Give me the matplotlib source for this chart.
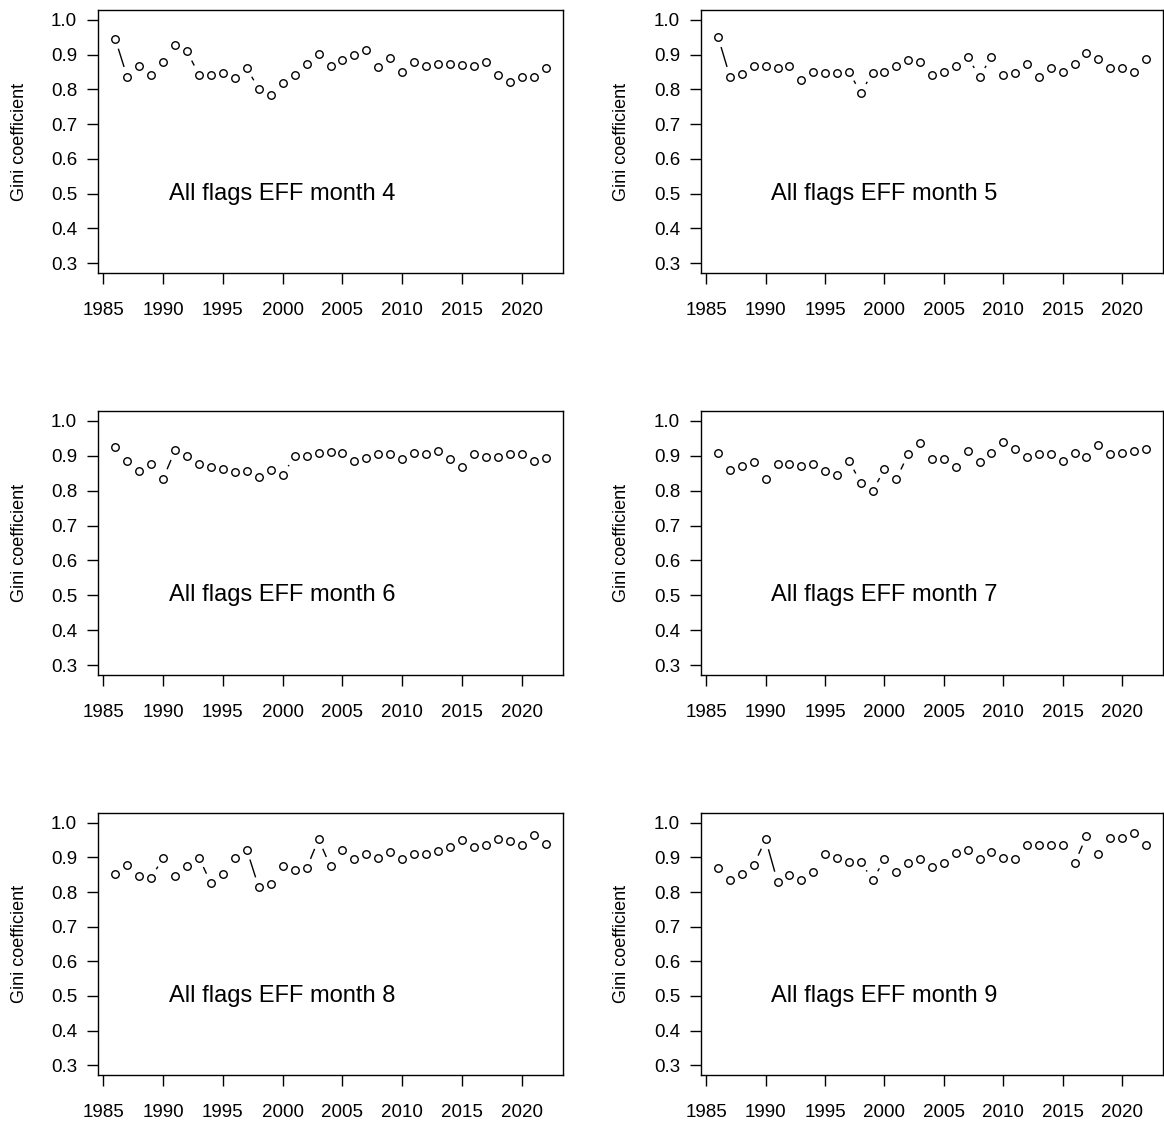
import numpy as np
import matplotlib
matplotlib.use("Agg")
import matplotlib.pyplot as plt

plt.rcParams['font.family'] = ['Liberation Sans', 'DejaVu Sans']

years = np.arange(1986, 2023)

gini_m4 = [0.945, 0.836, 0.866, 0.842, 0.878, 0.927, 0.909, 0.842, 0.842, 0.847,
           0.833, 0.862, 0.800, 0.784, 0.817, 0.841, 0.873, 0.902, 0.866, 0.883,
           0.898, 0.914, 0.864, 0.889, 0.851, 0.878, 0.866, 0.873, 0.873, 0.871,
           0.866, 0.878, 0.842, 0.820, 0.835, 0.835, 0.862]
gini_m5 = [0.950, 0.836, 0.845, 0.866, 0.866, 0.862, 0.866, 0.826, 0.851, 0.847,
           0.847, 0.851, 0.790, 0.847, 0.851, 0.866, 0.883, 0.878, 0.841, 0.851,
           0.866, 0.893, 0.836, 0.893, 0.841, 0.847, 0.873, 0.836, 0.862, 0.851,
           0.873, 0.905, 0.887, 0.862, 0.862, 0.851, 0.887]
gini_m6 = [0.925, 0.886, 0.855, 0.877, 0.834, 0.915, 0.898, 0.877, 0.867, 0.863,
           0.853, 0.855, 0.840, 0.858, 0.845, 0.898, 0.898, 0.908, 0.912, 0.908,
           0.885, 0.893, 0.904, 0.904, 0.891, 0.908, 0.904, 0.914, 0.891, 0.867,
           0.904, 0.896, 0.896, 0.904, 0.904, 0.885, 0.893]
gini_m7 = [0.908, 0.860, 0.871, 0.882, 0.834, 0.877, 0.877, 0.871, 0.877, 0.855,
           0.845, 0.886, 0.823, 0.798, 0.862, 0.834, 0.904, 0.935, 0.891, 0.891,
           0.867, 0.914, 0.882, 0.908, 0.939, 0.919, 0.896, 0.904, 0.904, 0.885,
           0.908, 0.896, 0.930, 0.904, 0.908, 0.914, 0.919]
gini_m8 = [0.851, 0.878, 0.846, 0.840, 0.899, 0.846, 0.874, 0.899, 0.826, 0.853,
           0.899, 0.922, 0.814, 0.822, 0.874, 0.863, 0.868, 0.952, 0.874, 0.922,
           0.894, 0.911, 0.899, 0.915, 0.894, 0.909, 0.909, 0.918, 0.930, 0.949,
           0.930, 0.935, 0.952, 0.947, 0.935, 0.964, 0.939]
gini_m9 = [0.868, 0.834, 0.851, 0.878, 0.952, 0.830, 0.848, 0.834, 0.858, 0.911,
           0.899, 0.888, 0.888, 0.834, 0.894, 0.858, 0.883, 0.894, 0.872, 0.883,
           0.914, 0.922, 0.894, 0.916, 0.899, 0.894, 0.935, 0.935, 0.935, 0.935,
           0.883, 0.961, 0.909, 0.955, 0.955, 0.971, 0.935]

months = [4, 5, 6, 7, 8, 9]
series = [gini_m4, gini_m5, gini_m6, gini_m7, gini_m8, gini_m9]
x_ticks = np.arange(1985, 2021, 5)
y_ticks = np.round(np.arange(0.3, 1.01, 0.1), 1)

W, H = 1164, 1126
fig = plt.figure(figsize=(W / 100, H / 100), dpi=100)

# axes boxes in pixels: (left, right) and (top, bottom)
cols = [(98, 563), (701, 1163)]
rows = [(10, 273), (411, 675), (813, 1075)]


def draw_b(ax, x, y, gap=11):
    # R style type="b": segments stop short of the points
    pts = ax.transData.transform(np.column_stack([x, y]))
    inv = ax.transData.inverted()
    for p1, p2 in zip(pts[:-1], pts[1:]):
        d = p2 - p1
        L = np.hypot(d[0], d[1])
        if L > 2 * gap:
            u = d / L
            a = inv.transform(p1 + u * gap)
            b = inv.transform(p2 - u * gap)
            ax.plot([a[0], b[0]], [a[1], b[1]], color='black', lw=1.0)


for i, (month, vals) in enumerate(zip(months, series)):
    l, r = cols[i % 2]
    t, b = rows[i // 2]
    ax = fig.add_axes([l / W, 1 - b / H, (r - l) / W, (b - t) / H])
    ext_x = 0.04 * (years[-1] - years[0])
    ax.set_xlim(years[0] - ext_x, years[-1] + ext_x)
    ax.set_ylim(0.3 - 0.028, 1.0 + 0.028)
    ax.plot(years, vals, 'o', mfc='none', mec='black', ms=5.4, mew=1.0)
    draw_b(ax, years, vals)
    ax.text(2000, 0.5, f"All flags EFF month {month}", ha='center', va='center',
            fontsize=17)
    ax.set_xticks(x_ticks)
    ax.set_yticks(y_ticks)
    ax.set_yticklabels([f"{v:.1f}" for v in y_ticks])
    ax.tick_params(axis='both', direction='out', length=8, width=1.0,
                   labelsize=13.5, color='black')
    ax.tick_params(axis='y', pad=7)
    ax.tick_params(axis='x', pad=13)
    for s in ax.spines.values():
        s.set_linewidth(1.0)
    ax.set_ylabel("Gini coefficient", fontsize=13, va='center')
    ax.yaxis.set_label_coords(((20 if i % 2 == 0 else 621) - l) / (r - l), 0.5)

fig.savefig("out.png", dpi=100)
